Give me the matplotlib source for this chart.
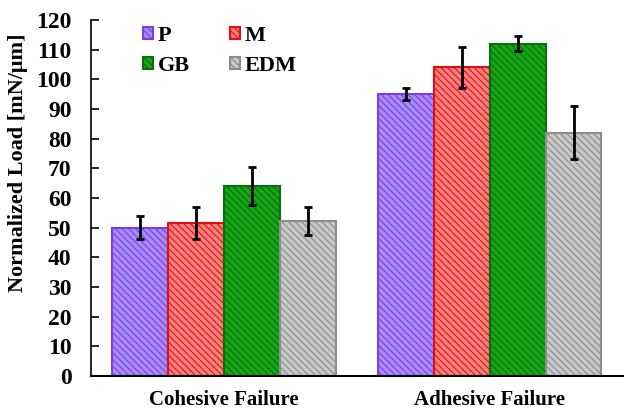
import numpy as np
import matplotlib.pyplot as plt

plt.rcParams['font.family'] = ['Liberation Serif', 'DejaVu Serif']
plt.rcParams['font.weight'] = 'bold'
plt.rcParams['hatch.linewidth'] = 0.8

# data
groups = ['Cohesive Failure', 'Adhesive Failure']
series = ['P', 'M', 'GB', 'EDM']
means = {
    'P': [50.0, 95.0],
    'M': [51.5, 104.0],
    'GB': [64.0, 112.0],
    'EDM': [52.3, 82.0],
}
errs = {
    'P': [4.0, 2.0],
    'M': [5.3, 6.8],
    'GB': [6.5, 2.5],
    'EDM': [4.8, 9.0],
}

# fill, hatch/edge colour
styles = {
    'P': ('#a98bff', '#7a3fe0'),
    'M': ('#ff8080', '#e01010'),
    'GB': ('#16a516', '#0a6e0a'),
    'EDM': ('#c8c8c8', '#8c8c8c'),
}

fig = plt.figure(figsize=(6.24, 4.09), dpi=100)
ax = fig.add_axes([0.146, 0.081, 0.852, 0.870])

x = np.arange(len(groups))
w = 0.21
bars = {}
for i, s in enumerate(series):
    pos = x + (i - 1.5) * w
    fc, hc = styles[s]
    bars[s] = ax.bar(pos, means[s], width=w, color=fc, edgecolor=hc,
                     hatch='\\\\\\\\\\', linewidth=1.5, label=s)
    ax.errorbar(pos, means[s], yerr=errs[s], fmt='none', ecolor='black',
                elinewidth=2, capsize=2.7, capthick=2)

ax.set_xlim(-0.5, 1.5)
ax.set_ylim(0, 120)
ax.set_yticks(range(0, 121, 10))
ax.set_xticks(x)
ax.set_xticklabels(groups, fontsize=15, fontweight='bold')
ax.tick_params(axis='x', length=0, pad=10)
ax.tick_params(axis='y', direction='in', length=6, width=1.2, labelsize=17,
               pad=14)
for lab in ax.get_yticklabels():
    lab.set_fontweight('bold')
ax.set_ylabel('Normalized Load [mN/\u03bcm]', fontsize=16, fontweight='bold')
ax.yaxis.set_label_coords(-0.118, 0.60)

ax.spines['top'].set_visible(False)
ax.spines['right'].set_visible(False)
ax.spines['left'].set_linewidth(1.2)
ax.spines['bottom'].set_linewidth(1.5)

order = ['P', 'GB', 'M', 'EDM']
ax.legend([bars[s] for s in order], order, ncol=2, loc='upper left',
          bbox_to_anchor=(0.098, 0.983), frameon=False, borderpad=0,
          borderaxespad=0, prop={'size': 16, 'weight': 'bold'},
          handlelength=0.45, handleheight=0.45, handletextpad=0.2,
          columnspacing=1.8, labelspacing=0.45)

fig.savefig('out.png', dpi=100)
